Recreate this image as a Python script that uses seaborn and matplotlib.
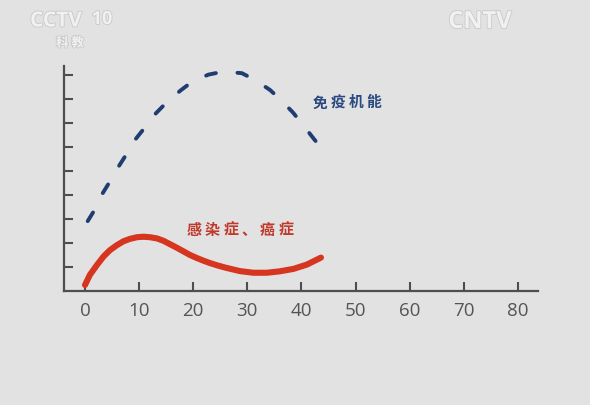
import matplotlib
matplotlib.use("Agg")
import matplotlib.pyplot as plt
import matplotlib.patheffects as pe
import seaborn as sns
import pandas as pd

# ---- data ----
immune_x = [0.5, 1.7, 3.1, 4.6, 6.2, 7.7, 9.4, 11.1, 13.1, 15.1, 17.6, 19.8,
            22.8, 25.6, 29.0, 31.4, 34.2, 36.3, 38.4, 40.3, 42.2, 43.7]
immune_y = [2.91, 3.35, 4.01, 4.56, 5.18, 5.71, 6.34, 6.82, 7.40, 7.86, 8.34, 8.72,
            9.01, 9.14, 9.07, 8.79, 8.37, 7.93, 7.44, 6.91, 6.36, 5.94]

disease_x = [0.0, 0.9, 2.2, 3.4, 4.6, 5.9, 7.1, 8.3, 9.6, 10.8, 12.0, 13.3, 14.5,
             15.7, 16.9, 18.2, 19.4, 20.6, 21.8, 23.0, 24.4, 26.0, 28.6, 31.1,
             33.6, 36.0, 38.5, 41.0, 43.6]
disease_y = [0.25, 0.67, 1.08, 1.43, 1.70, 1.91, 2.07, 2.17, 2.24, 2.26, 2.24,
             2.19, 2.09, 1.95, 1.81, 1.65, 1.50, 1.38, 1.27, 1.17, 1.07, 0.97,
             0.83, 0.76, 0.76, 0.82, 0.92, 1.10, 1.39]

x_ticks = [0, 10, 20, 30, 40, 50, 60, 70, 80]
y_ticks = [1, 2, 3, 4, 5, 6, 7, 8, 9]

immune_label = "免疫机能"
disease_label = "感染症、癌症"

df_immune = pd.DataFrame({"age": immune_x, "level": immune_y})
df_disease = pd.DataFrame({"age": disease_x, "level": disease_y})

# ---- style ----
sns.set_theme(style="white")
BG = "#e2e2e2"
AXIS = "#4e4e4e"
BLUE = "#1f3d70"
RED = "#d6351f"
plt.rcParams["font.family"] = ["Open Sans", "DejaVu Sans"]

W, H = 590, 406
fig = plt.figure(figsize=(W / 100, H / 100), dpi=100, facecolor=BG)
ax = fig.add_axes([64 / W, 1 - 292 / H, 474 / W, 225 / H])
ax.set_facecolor(BG)

sns.lineplot(data=df_immune, x="age", y="level", ax=ax, color=BLUE,
             estimator=None, sort=False, linewidth=2.8,
             linestyle=(0, (2.6, 5.6)), dash_capstyle="round", clip_on=False)
sns.lineplot(data=df_disease, x="age", y="level", ax=ax, color=RED,
             estimator=None, sort=False, linewidth=4.4,
             solid_capstyle="round", solid_joinstyle="round", clip_on=False)

ax.set_xlim(-3.88, 83.7)
ax.set_ylim(0, 9.37)
ax.set_xticks(x_ticks)
ax.set_yticks(y_ticks)
ax.set_yticklabels([])
ax.set_xlabel("")
ax.set_ylabel("")
ax.tick_params(axis="x", direction="in", length=6.5, width=1.5, color=AXIS,
               labelcolor="#555555", labelsize=13.5, pad=7, bottom=True)
ax.tick_params(axis="y", direction="in", length=6.5, width=1.5, color=AXIS, left=True)
for side in ("top", "right"):
    ax.spines[side].set_visible(False)
for side in ("left", "bottom"):
    ax.spines[side].set_color(AXIS)
    ax.spines[side].set_linewidth(1.6)

cjk = ["Noto Sans CJK SC", "DejaVu Sans"]


def spaced_label(text, x0, y0, pitch, size, color):
    """Place a label character by character (pixel coords from top-left)."""
    for i, ch in enumerate(text):
        fig.text((x0 + i * pitch) / W, 1 - y0 / H, ch, fontsize=size, color=color,
                 fontweight="bold", family=cjk, ha="center", va="center")


spaced_label(immune_label, 320, 102.5, 18.0, 10.6, "#2b4a80")
spaced_label(disease_label, 194, 230, 18.4, 10.8, "#c03a2b")

# faint broadcast watermarks
wm = dict(color="#f1f1f1", fontweight="bold",
          path_effects=[pe.withStroke(linewidth=1.2, foreground="#c9c9c9")])
fig.text(30 / W, 1 - 22 / H, "CCTV", fontsize=15, va="center", ha="left", **wm)
fig.text(102 / W, 1 - 20 / H, "10", fontsize=13, va="center", ha="center", **wm)
fig.text(70 / W, 1 - 44 / H, "科 教", fontsize=9, va="center", ha="center",
         family=cjk, **wm)
fig.text(480 / W, 1 - 23 / H, "CNTV", fontsize=17, va="center", ha="center", **wm)

fig.savefig("out.png", dpi=100, facecolor=BG)
